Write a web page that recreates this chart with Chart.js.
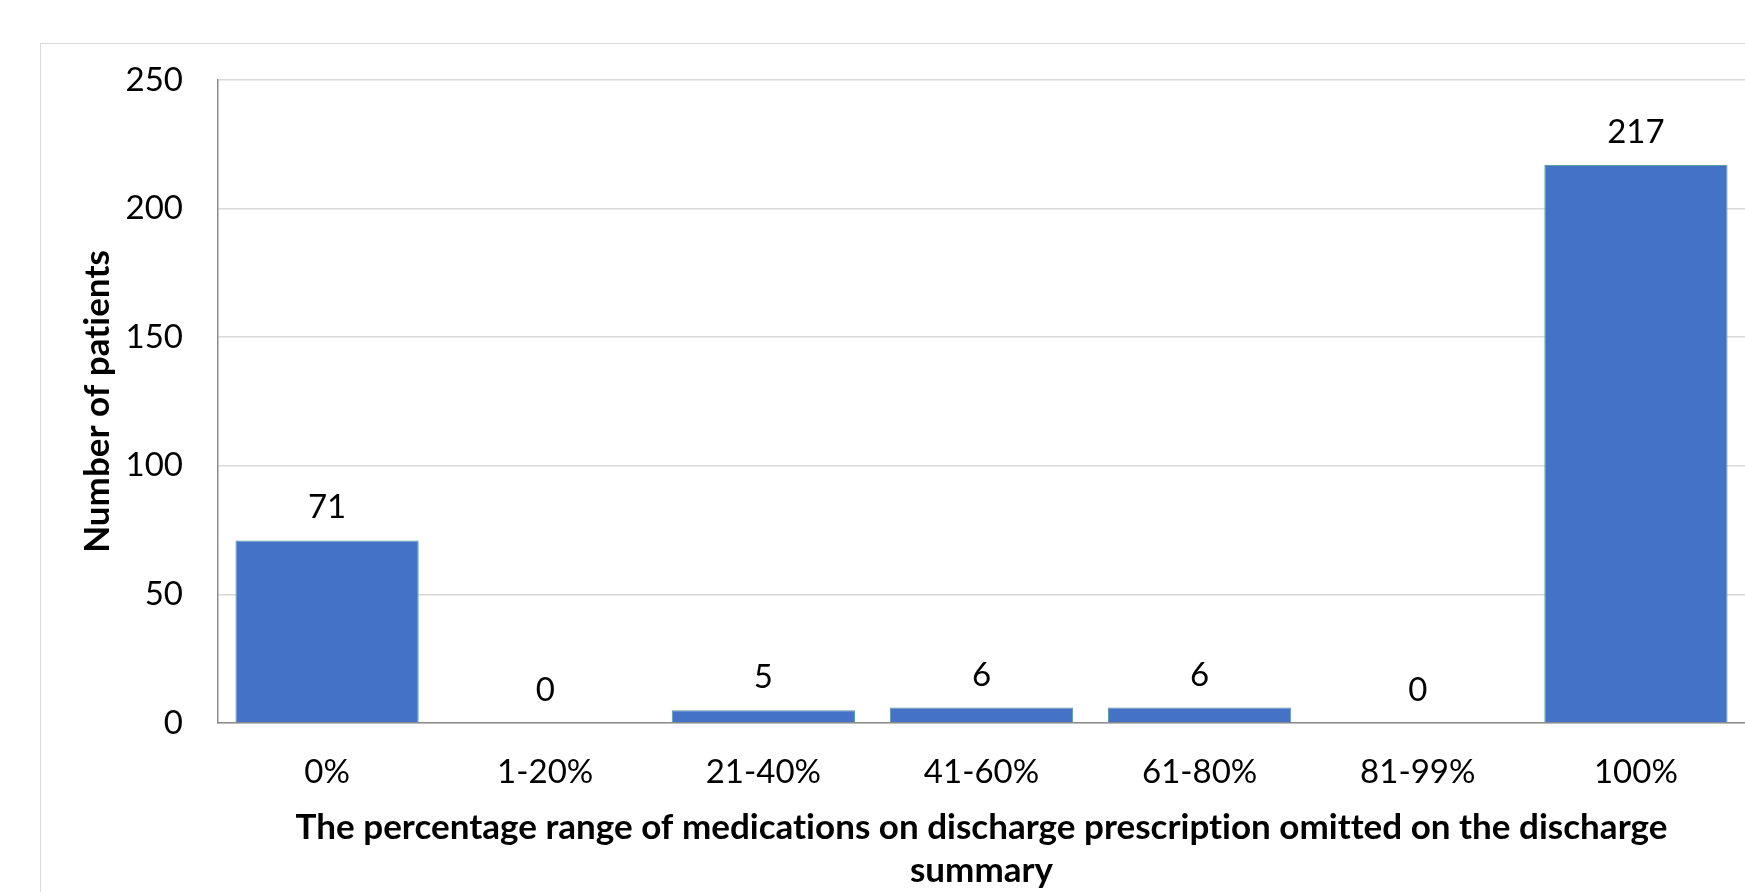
<!DOCTYPE html>
<html>
<head>
<meta charset="utf-8">
<script src="https://cdn.jsdelivr.net/npm/chart.js@4"></script>
<style>
  html, body { margin: 0; padding: 0; background: #ffffff; overflow: hidden; width: 1745px; height: 892px; }
  #frame {
    position: absolute; left: 40px; top: 43px;
    width: 1704px; height: 848px;
    border: 1px solid #d9d9d9; background: #ffffff;
  }
  #chart { display: block; }
</style>
</head>
<body>
<div id="frame"><canvas id="chart" width="1704" height="848"></canvas></div>
<script>
// Omission ranges and patient counts
const categories = ['0%', '1-20%', '21-40%', '41-60%', '61-80%', '81-99%', '100%'];
const patients = [71, 0, 5, 6, 6, 0, 217];
const yTicks = [0, 50, 100, 150, 200, 250];
const xTitle = ['The percentage range of medications on discharge prescription omitted on the discharge', 'summary'];
const yTitle = 'Number of patients';

const FONT = 'Lato, "Open Sans", sans-serif';

// A tiny letter spacing keeps "ti" from turning into a ligature
const plainLetters = {
  id: 'plainLetters',
  beforeDraw(chart) { chart.ctx.letterSpacing = '0.01px'; }
};

// Value labels above each bar
const valueLabels = {
  id: 'valueLabels',
  afterDatasetsDraw(chart) {
    const ctx = chart.ctx;
    const meta = chart.getDatasetMeta(0);
    ctx.save();
    ctx.font = '33px ' + FONT;
    ctx.fillStyle = '#000000';
    ctx.textAlign = 'center';
    ctx.textBaseline = 'alphabetic';
    meta.data.forEach((bar, i) => {
      ctx.fillText(String(patients[i]), bar.x, bar.y - 22);
    });
    ctx.restore();
  }
};

new Chart(document.getElementById('chart'), {
  type: 'bar',
  data: {
    labels: categories,
    datasets: [{
      data: patients,
      backgroundColor: '#4472c4',
      borderColor: '#5a9ca0',
      borderWidth: 1,
      barPercentage: 0.84,
      categoryPercentage: 1.0
    }]
  },
  options: {
    responsive: false,
    animation: false,
    layout: { padding: { top: 36, left: 0, right: 0, bottom: 0 } },
    plugins: {
      legend: { display: false },
      tooltip: { enabled: false }
    },
    scales: {
      x: {
        grid: { display: false, drawTicks: false },
        border: { display: true, color: '#8c8c8c', width: 1.5 },
        ticks: { color: '#000000', padding: 30, font: { family: FONT, size: 33 } },
        title: {
          display: true,
          text: xTitle,
          color: '#000000',
          padding: { top: 0, bottom: 0 },
          font: { family: FONT, size: 35, weight: 'bold', lineHeight: '43px' }
        },
        afterFit(scale) {
          scale.height = 169;
          scale.paddingLeft = 0;
          scale.paddingRight = 0;
        }
      },
      y: {
        min: 0,
        max: 250,
        afterBuildTicks(scale) { scale.ticks = yTicks.map(v => ({ value: v })); },
        grid: { color: '#d9d9d9', lineWidth: 1.5, drawTicks: false },
        border: { display: true, color: '#8c8c8c', width: 1.5 },
        ticks: { color: '#000000', padding: 35, font: { family: FONT, size: 33 } },
        title: {
          display: true,
          text: yTitle,
          color: '#000000',
          padding: { top: 36, bottom: 0 },
          font: { family: FONT, size: 35, weight: 'bold' }
        },
        afterFit(scale) {
          scale.width = 177;
          scale.paddingTop = 0;
          scale.paddingBottom = 0;
        }
      }
    }
  },
  plugins: [plainLetters, valueLabels]
});
</script>
</body>
</html>
